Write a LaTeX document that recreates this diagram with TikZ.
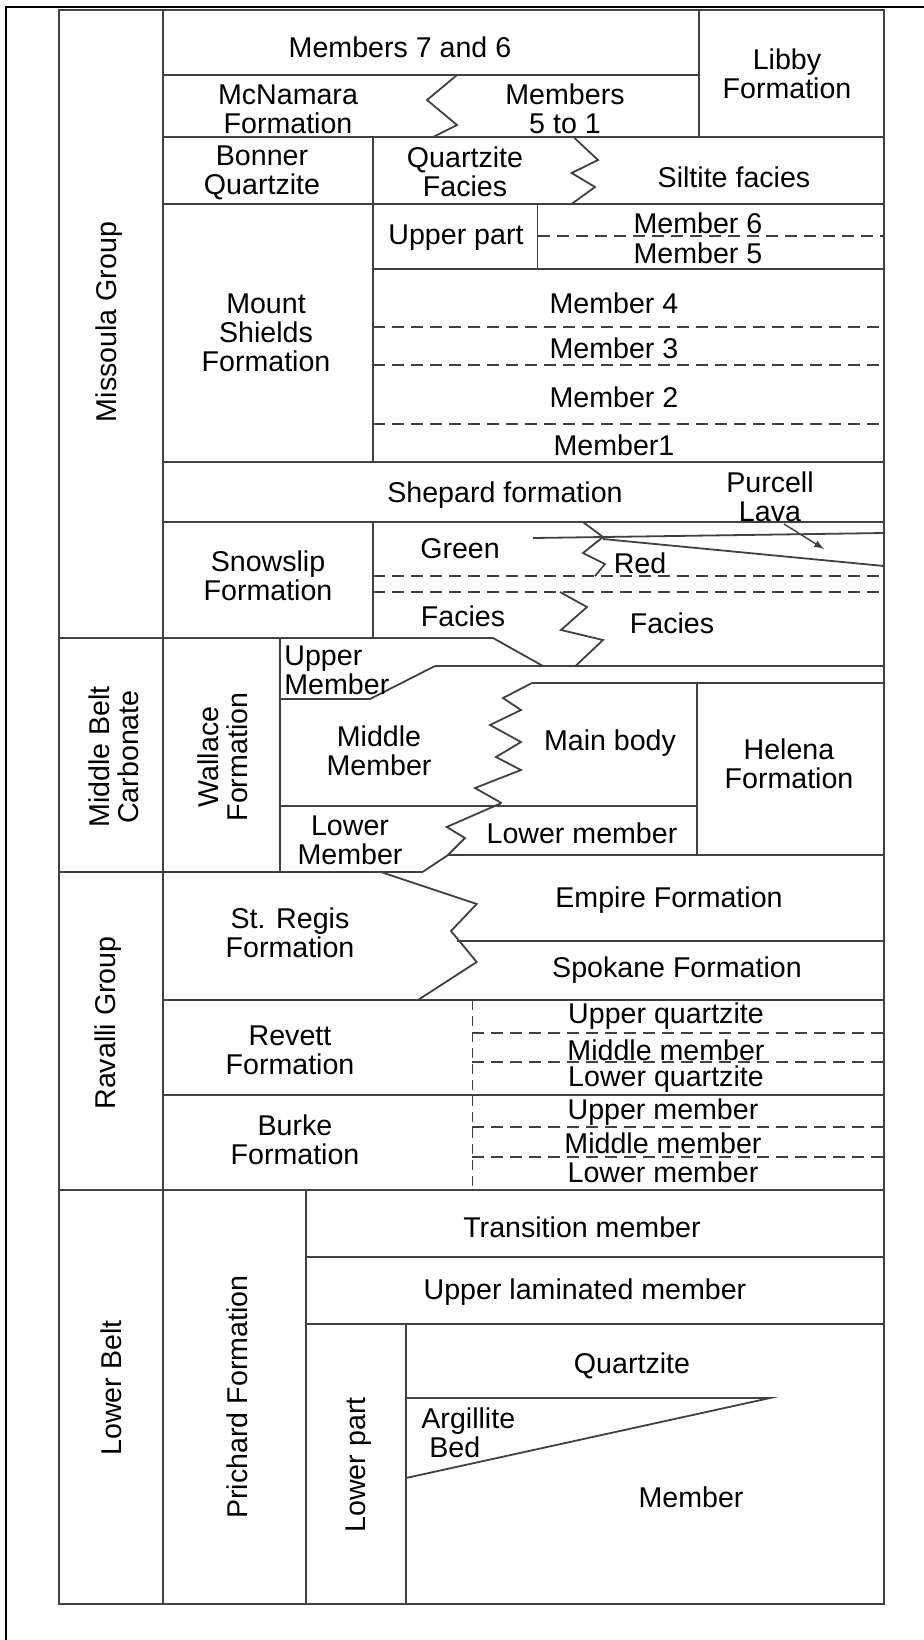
\documentclass[tikz,border=0pt]{standalone}
\usepackage{fontspec}
\setmainfont{Liberation Sans}
\tikzset{
bed/.style={draw=black!75, line width=0.9pt},
contact/.style={bed, dash pattern=on 6pt off 3.5pt},
lbl/.style={inner sep=0pt, align=center, font=\fontsize{14.3}{14.6}\selectfont},
vlbl/.style={lbl, rotate=90}
}
\begin{document}
\begin{tikzpicture}[x=0.5pt, y=-0.5pt]
\useasboundingbox (0,0) rectangle (924,1640);
\draw[line width=1pt] (6,1640) -- (6,7) -- (924,7);
\draw[bed] (59,10) rectangle (884,1604);
\draw[bed] (163,10) -- (163,1604);
\draw[bed] (59,638) -- (493,638) -- (543,666);
\draw[bed] (59,871.7) -- (423,871.7);
\draw[bed] (59,1190) -- (884,1190);

\draw[bed] (163,75) -- (699,75);
\draw[bed] (699,10) -- (699,137);
\draw[bed] (163,137) -- (884,137);
\draw[bed] (457,75) -- (427,100) -- (457,125) -- (433,137);
\draw[bed] (373,137) -- (373,462);
\draw[bed] (574.5,138) -- (598,160) -- (571.6,173) -- (595,187) -- (571.6,204);
\draw[bed] (163,204) -- (884,204);
\draw[bed] (537.5,204) -- (537.5,269);
\draw[bed] (373,269) -- (884,269);
\draw[contact] (537.5,235.7) -- (884,235.7);
\draw[contact, line width=1.2pt] (373,327) -- (884,327);
\draw[contact] (373,365) -- (884,365);
\draw[contact] (373,424) -- (884,424);
\draw[bed] (163,462) -- (884,462);
\draw[bed] (163,522) -- (884,522);
\draw[bed] (373,522) -- (373,638);
\draw[bed] (533,538) -- (884,533);
\draw[bed] (603,539) -- (884,566);
\draw[bed] (583,522) -- (603,537) -- (583,553) -- (605,564) -- (595,576);
\draw[contact] (373,576) -- (884,576);
\draw[contact] (373,592) -- (884,592);
\draw[bed] (560,592) -- (587,607) -- (561,630) -- (603,640) -- (575.5,666);

\draw[bed] (435,666) -- (884,666);
\draw[bed] (280,699) -- (370,699) -- (435,666);
\draw[bed] (280,638) -- (280,871.7);
\draw[bed] (532,683) -- (503,698) -- (521,710) -- (490,725) -- (521,742)
  -- (496,757) -- (521,770) -- (475,788) -- (501.5,803);
\draw[bed] (532,683) -- (884,683);
\draw[bed] (696.6,683) -- (696.6,855);
\draw[bed] (280,805.7) -- (696.6,805.7);
\draw[bed] (501.5,803) -- (446.7,827) -- (465,838) -- (448,855) -- (423,871.7);
\draw[bed] (448,855) -- (884,855);

\draw[bed] (380,871.7) -- (476.7,904) -- (451,931) -- (476.7,962) -- (418,1000);
\draw[bed] (457,941) -- (884,941);
\draw[bed] (163,1000) -- (884,1000);
\draw[bed] (163,1095) -- (884,1095);
\draw[bed, line width=0.5pt, dash pattern=on 5pt off 3pt] (472,1000) -- (472,1188);
\draw[contact] (472,1033) -- (884,1033);
\draw[contact] (472,1062) -- (884,1062);
\draw[contact] (472,1127) -- (884,1127);
\draw[contact] (472,1157) -- (884,1157);

\draw[bed] (306,1190) -- (306,1604);
\draw[bed] (306,1257) -- (884,1257);
\draw[bed] (306,1324) -- (884,1324);
\draw[bed] (405.6,1324) -- (405.6,1604);
\draw[bed] (405.6,1398) -- (770,1398) -- (406,1478);

\node[vlbl] (missoula) at (109,322) {Missoula Group};
\node[lbl] (m76) at (400,47) {Members 7 and 6};
\node[lbl] (libby) at (787,74) {Libby\\Formation};
\node[lbl] (mcnamara) at (288,109) {McNamara\\Formation};
\node[lbl] (m51) at (565,109) {Members\\5 to 1};
\node[lbl] (bonner) at (262,173) {Bonner\\Quartzite};
\node[lbl] (qzfacies) at (465,172) {Quartzite\\Facies};
\node[lbl] (siltite) at (734,177) {Siltite facies};
\node[lbl] (mtshields) at (266,333) {Mount\\Shields\\Formation};
\node[lbl] (upart) at (456,238) {Upper part};
\node[lbl] (mb6) at (698,223) {Member 6};
\node[lbl] (mb5) at (698,253) {Member 5};
\node[lbl] (mb4) at (614,303) {Member 4};
\node[lbl] (mb3) at (614,348) {Member 3};
\node[lbl] (mb2) at (614,397) {Member 2};
\node[lbl] (mb1) at (614,445) {Member1};
\node[lbl] (shepard) at (505,495) {Shepard formation};
\node[lbl] (purcell) at (770,497) {Purcell\\Lava};
\coordinate (lava) at (824,549);
\draw[bed, line width=0.7pt, -latex] (784,524) -- (lava);
\node[lbl] (snowslip) at (268,576) {Snowslip\\Formation};
\node[lbl] (green) at (460,549) {Green};
\node[lbl] (red) at (640,563) {Red};
\node[lbl] (faciesl) at (463,616) {Facies};
\node[lbl] (faciesr) at (672,623) {Facies};

\node[vlbl] (mbc) at (114,757) {Middle Belt\\Carbonate};
\node[vlbl] (wallace) at (223,757) {Wallace\\Formation};
\node[lbl, anchor=west, align=left] (upmember) at (284,670) {Upper\\Member};
\node[lbl] (midmember) at (379,751) {Middle\\Member};
\node[lbl] (mainbody) at (610,743) {Main body};
\node[lbl] (helena) at (789,764) {Helena\\Formation};
\node[lbl] (lowmember) at (350,840) {Lower\\Member};
\node[lbl] (lowmember2) at (582,833) {Lower member};

\node[vlbl] (ravalli) at (108,1023) {Ravalli Group};
\node[lbl] (stregis) at (290,933) {St. Regis\\Formation};
\node[lbl] (empire) at (669,900) {Empire Formation};
\node[lbl] (spokane) at (677,970) {Spokane Formation};
\node[lbl] (revett) at (290,1050) {Revett\\Formation};
\node[lbl] (upq) at (666,1016) {Upper quartzite};
\node[lbl] (midm) at (666,1050) {Middle member};
\node[lbl] (lowq) at (666,1079) {Lower quartzite};
\node[lbl] (burke) at (295,1140) {Burke\\Formation};
\node[lbl] (upm) at (663,1112) {Upper member};
\node[lbl] (midm2) at (663,1143) {Middle member};
\node[lbl] (lowm) at (663,1172) {Lower member};

\node[vlbl] (lowbelt) at (111,1388) {Lower Belt};
\node[vlbl] (prichard) at (237,1397) {Prichard Formation};
\node[vlbl] (lowpart) at (359,1465) {Lower part};
\node[lbl] (transition) at (582,1227) {Transition member};
\node[lbl] (uplam) at (585,1292) {Upper laminated member};
\node[lbl] (quartzite) at (632,1366) {Quartzite};
\node[lbl, anchor=west, align=left] (argillite) at (421,1433) {Argillite\\\hspace*{4pt}Bed};
\node[lbl] (member) at (691,1497) {Member};
\end{tikzpicture}
\end{document}
